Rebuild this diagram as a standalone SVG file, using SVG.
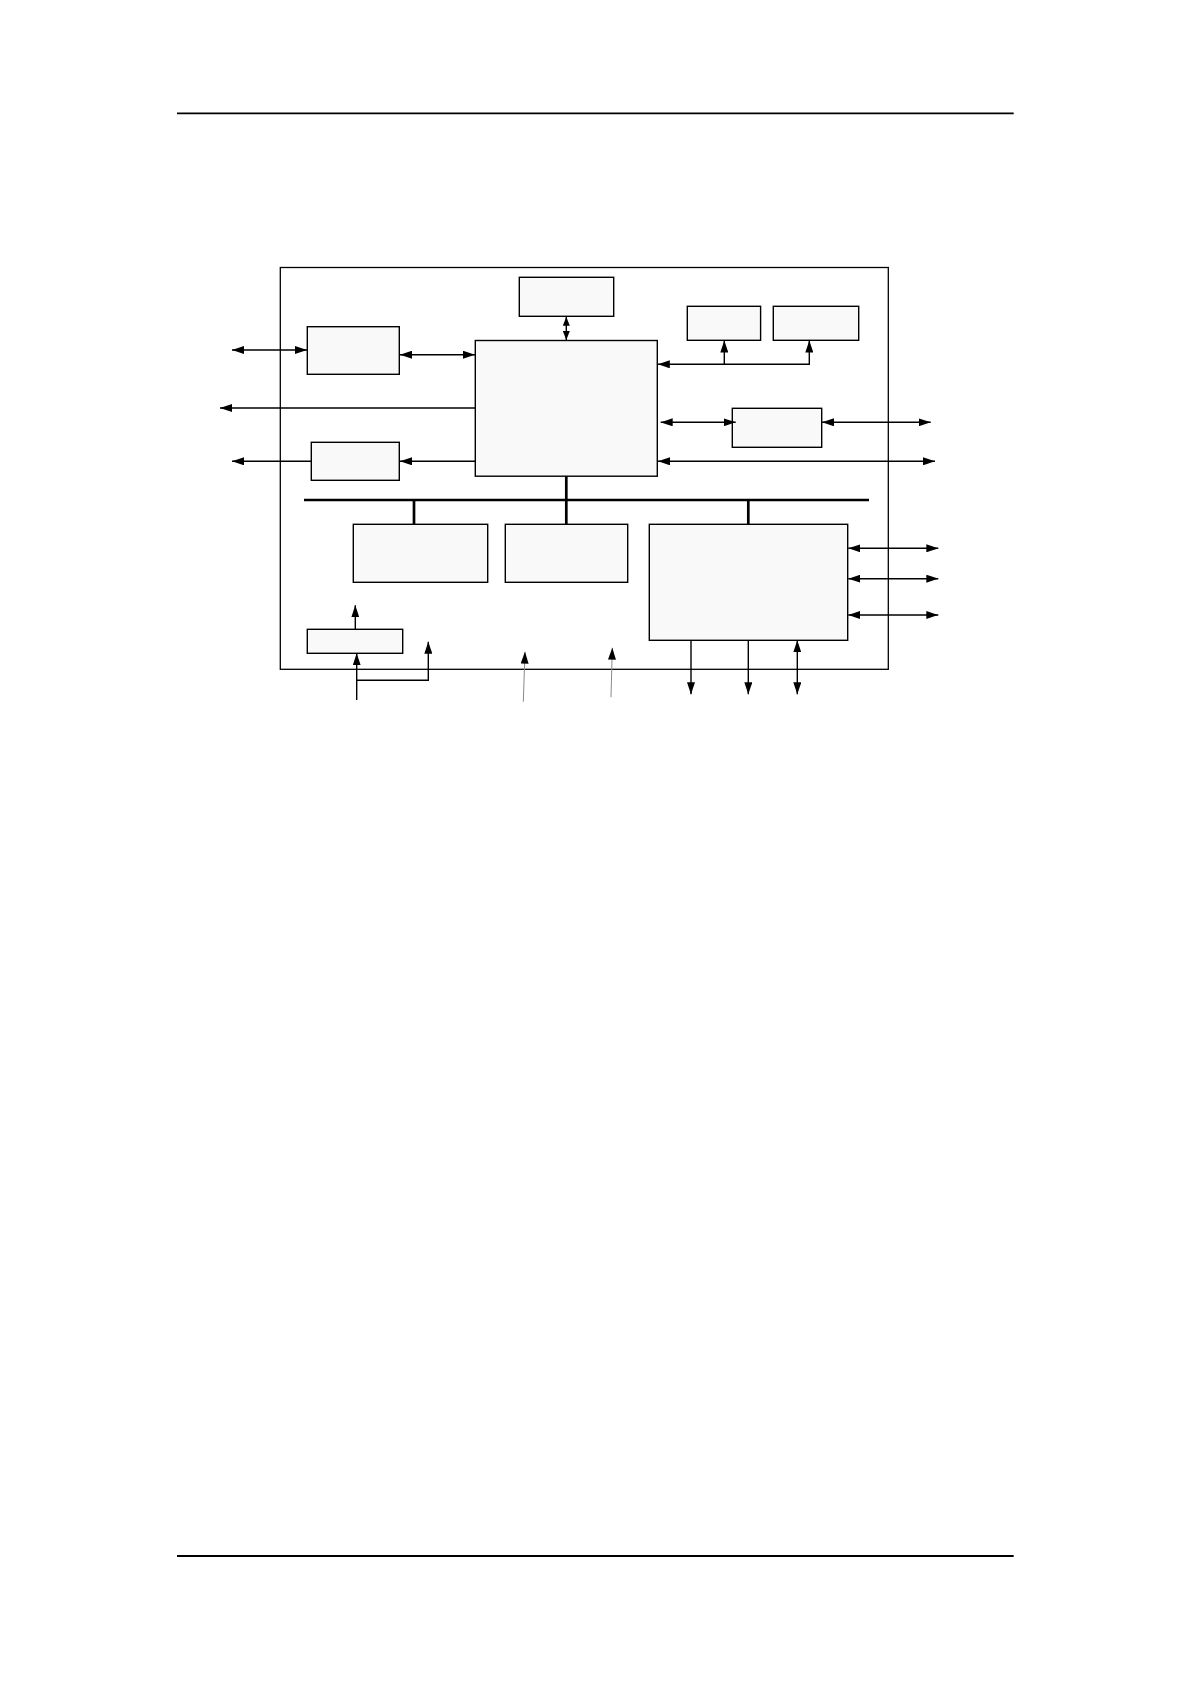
<svg xmlns="http://www.w3.org/2000/svg" width="1190" height="1684" viewBox="0 0 1190 1684">
<style>
.rule{stroke:#000;stroke-width:1.8;fill:none}
.frame{stroke:#000;stroke-width:1.3;fill:none}
.box{stroke:#000;stroke-width:1.4;fill:#f9f9f9}
.ln{stroke:#000;stroke-width:1.4;fill:none}
.bus{stroke:#000;stroke-width:2.7;fill:none}
.gr{stroke:#8a8a8a;stroke-width:1;fill:none}
.a1{marker-end:url(#ah)}
.a2{marker-start:url(#ah);marker-end:url(#ah)}
</style>
<defs>
<marker id="ah" viewBox="0 0 12 8" markerWidth="12" markerHeight="8" refX="12" refY="4" orient="auto-start-reverse" markerUnits="userSpaceOnUse">
<path d="M0,0 L12,4 L0,8 z" fill="#000"/>
</marker>
<marker id="ahs" viewBox="0 0 9 7" markerWidth="9" markerHeight="7" refX="9" refY="3.5" orient="auto-start-reverse" markerUnits="userSpaceOnUse">
<path d="M0,0 L9,3.5 L0,7 z" fill="#000"/>
</marker>
</defs>
<rect width="1190" height="1684" fill="#fff"/>
<g id="page-rules">
<line class="rule" x1="177" y1="113.3" x2="1013.7" y2="113.3"/>
<line class="rule" x1="177" y1="1556" x2="1013.7" y2="1556"/>
</g>
<g id="frame"><rect class="frame" x="280.3" y="267.5" width="608" height="401.8"/></g>
<g id="top-box"><rect class="box" x="519.3" y="277.3" width="94.4" height="39"/></g>
<g id="tr-box-1"><rect class="box" x="687.3" y="306.3" width="73.3" height="34"/></g>
<g id="tr-box-2"><rect class="box" x="773.3" y="306.3" width="85.4" height="34"/></g>
<g id="left-box-1"><rect class="box" x="307.3" y="326.7" width="92" height="47.6"/></g>
<g id="center-box"><rect class="box" x="475.3" y="340.5" width="182" height="135.7"/></g>
<g id="left-box-2"><rect class="box" x="311.3" y="442.3" width="88" height="38"/></g>
<g id="right-mid-box"><rect class="box" x="732.3" y="408.3" width="89.4" height="39"/></g>
<g id="bottom-box-1"><rect class="box" x="353.3" y="524.3" width="134.4" height="58"/></g>
<g id="bottom-box-2"><rect class="box" x="505.3" y="524.3" width="122.4" height="58"/></g>
<g id="bottom-box-3"><rect class="box" x="649.3" y="524.3" width="198.4" height="116"/></g>
<g id="small-box"><rect class="box" x="307.3" y="629.3" width="95.4" height="24"/></g>
<g id="connectors">
<path class="bus" d="M304,500 H869"/>
<path class="bus" d="M414,500 V524.3 M566.3,476.2 V524.3 M748.3,500 V524.3"/>
<path class="ln a2" d="M232,350 H307"/>
<path class="ln a2" d="M400,354.7 H475"/>
<path class="ln a1" d="M475,408 H220"/>
<path class="ln a1" d="M475,461.3 H400"/>
<path class="ln a1" d="M311,461.3 H232"/>
<path class="ln" marker-start="url(#ahs)" marker-end="url(#ahs)" d="M566.3,316.8 V340"/>
<path class="ln a2" d="M809.3,340.5 V364.3 H657.8"/>
<path class="ln a1" d="M724.3,364.3 V340.5"/>
<path class="ln a2" d="M660.7,422.3 H735.7"/>
<path class="ln a2" d="M822,422.3 H930.7"/>
<path class="ln a2" d="M658,461.3 H935"/>
<path class="ln a2" d="M848.3,548.3 H938.3"/>
<path class="ln a2" d="M848.3,578.7 H938.3"/>
<path class="ln a2" d="M848.3,615 H938.3"/>
<path class="ln a1" d="M691,640.3 V694.3"/>
<path class="ln a1" d="M748.3,640.3 V694.3"/>
<path class="ln a2" d="M797.3,640.3 V694.3"/>
<path class="ln a1" d="M355.3,629.3 V605.3"/>
<path class="ln a1" d="M356.7,700 V653.3"/>
<path class="ln a1" d="M356.7,680.3 H428.3 V641.7"/>
<path class="gr a1" d="M523.3,701.7 L525,651.7"/>
<path class="gr a1" d="M611,697.3 L612.3,647.7"/>
</g>
</svg>
